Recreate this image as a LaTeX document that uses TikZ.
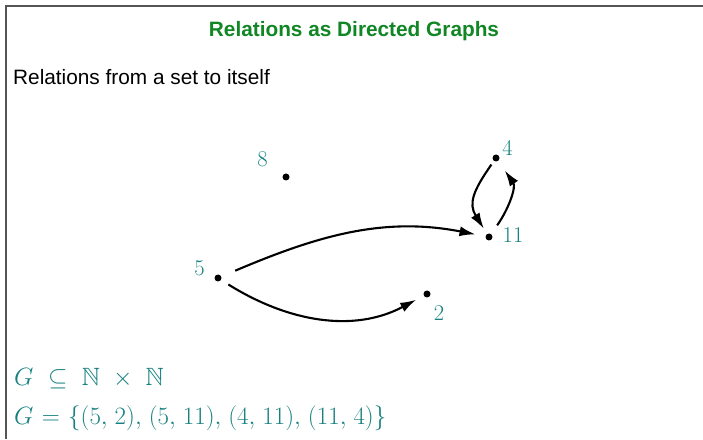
\documentclass[tikz,border=0pt]{standalone}
\usepackage{fix-cm}
\usepackage{amssymb}
\usepackage{fontspec}
\newfontfamily\arialfont{Liberation Sans}
\usetikzlibrary{arrows.meta}
\definecolor{titlegreen}{RGB}{16,134,36}
\definecolor{tealc}{RGB}{22,128,128}
\definecolor{framegray}{RGB}{85,85,85}
\newcommand{\cm}{,\mkern2mu}
\begin{document}
\begin{tikzpicture}[x=1pt,y=1pt,
  dot/.style={circle,fill=black,inner sep=0pt,minimum size=7pt},
  numlabel/.style={text=tealc,font=\fontsize{22.5}{27}\selectfont,inner sep=0pt},
  edge/.style={line width=2.1pt,-{Latex[length=16pt,width=10pt]}},
  mathline/.style={anchor=base west,inner sep=0pt,text=tealc,font=\fontsize{25}{30}\selectfont},
  frameline/.style={draw=framegray,line width=2pt}]
\useasboundingbox (0,0) rectangle (703,439);
\draw[frameline] (703,433) -- (6,433) -- (6,0);
\node[font=\arialfont\bfseries\fontsize{20.8}{25}\selectfont,text=titlegreen,anchor=base,inner sep=0pt] (title) at (354,402) {Relations as Directed Graphs};
\node[font=\arialfont\fontsize{20.8}{25}\selectfont,anchor=base west,inner sep=0pt] (subtitle) at (13,354) {Relations from a set to itself};
% vertices
\node[dot] (n8) at (286,262) {};
\node[dot] (n4) at (496,281) {};
\node[dot] (n11) at (489,202) {};
\node[dot] (n5) at (218,161) {};
\node[dot] (n2) at (427,145) {};
% labels
\node[numlabel] (l8) at (262.5,280) {8};
\node[numlabel] (l4) at (507.5,291.5) {4};
\node[numlabel] (l11) at (513,204) {11};
\node[numlabel] (l5) at (199.5,171) {5};
\node[numlabel] (l2) at (439,126) {2};
% edges
\draw[edge,shorten <=15pt,shorten >=10pt] (n5) to[out=23,in=169] (n11);
\draw[edge,shorten <=8.5pt,shorten >=8.5pt] (n5) to[out=-32,in=-152] (n2);
\draw[edge,shorten <=4.3pt,shorten >=6pt,looseness=1.25] (n4) to[out=235,in=122] (n11);
\draw[edge,shorten <=10.5pt,shorten >=11.5pt,looseness=1.1] (n11) to[out=55,in=-55] (n4);
% formulas
\node[mathline] (f1) at (14,54) {$G\ \subseteq\ \mathbb{N}\ \times\ \mathbb{N}$};
\node[mathline] (f2) at (14,15) {$G\mskip1mu=\mskip1mu\{(5\cm2)\cm(5\cm11)\cm(4\cm11)\cm(11\cm4)\}$};
\end{tikzpicture}
\end{document}
